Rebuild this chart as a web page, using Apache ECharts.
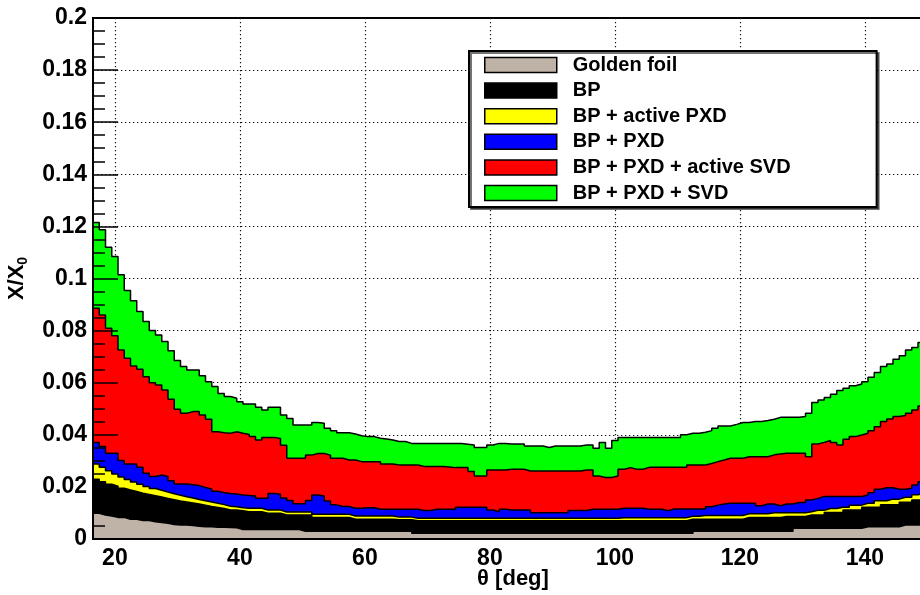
<!DOCTYPE html>
<html>
<head>
<meta charset="utf-8">
<title>Material budget X/X0 vs theta</title>
<script src="https://cdn.jsdelivr.net/npm/echarts@6/dist/echarts.min.js"></script>
<style>
  html, body { margin: 0; padding: 0; background: #fff; }
  #chart { width: 920px; height: 595px; }
</style>
</head>
<body>
<div id="chart"></div>
<script>
// histogram bins: 1 deg wide, first bin starts at 16.5 deg (centres 17 ... 149)
const thetaStart = 16.5
const thetaStep = 1

const layerNames = ['Golden foil', 'BP', 'BP + active PXD', 'BP + PXD', 'BP + PXD + active SVD', 'BP + PXD + SVD']
const layerColors = ['#bfb3a8', '#000000', '#ffff00', '#0000ff', '#ff0000', '#00ff00']

// cumulative X/X0 per bin
const goldenFoil = [
  0.0099, 0.0092, 0.0088, 0.0083, 0.0083, 0.0076, 0.0076, 0.0071, 0.0071, 0.0066,
  0.0063, 0.0060, 0.0056, 0.0054, 0.0054, 0.0052, 0.0049, 0.0047, 0.0047, 0.0045,
  0.0045, 0.0044, 0.0043, 0.0036, 0.0036, 0.0036, 0.0036, 0.0036, 0.0036, 0.0036,
  0.0036, 0.0036, 0.0036, 0.0030, 0.0030, 0.0030, 0.0030, 0.0030, 0.0030, 0.0030,
  0.0030, 0.0030, 0.0030, 0.0030, 0.0030, 0.0030, 0.0030, 0.0030, 0.0030, 0.0030,
  0.0030, 0.0022, 0.0022, 0.0022, 0.0022, 0.0022, 0.0022, 0.0022, 0.0022, 0.0022,
  0.0022, 0.0022, 0.0022, 0.0022, 0.0022, 0.0022, 0.0022, 0.0022, 0.0022, 0.0022,
  0.0022, 0.0022, 0.0022, 0.0022, 0.0022, 0.0022, 0.0022, 0.0022, 0.0022, 0.0022,
  0.0022, 0.0022, 0.0022, 0.0022, 0.0022, 0.0022, 0.0022, 0.0022, 0.0022, 0.0022,
  0.0022, 0.0022, 0.0022, 0.0022, 0.0022, 0.0022, 0.0030, 0.0030, 0.0030, 0.0030,
  0.0030, 0.0030, 0.0030, 0.0030, 0.0030, 0.0030, 0.0030, 0.0030, 0.0030, 0.0030,
  0.0030, 0.0030, 0.0041, 0.0041, 0.0041, 0.0041, 0.0041, 0.0041, 0.0041, 0.0041,
  0.0041, 0.0041, 0.0041, 0.0047, 0.0047, 0.0047, 0.0047, 0.0047, 0.0047, 0.0054,
  0.0054, 0.0054, 0.0054
]
const beamPipe = [
  0.0229, 0.0220, 0.0210, 0.0203, 0.0195, 0.0188, 0.0182, 0.0176, 0.0171, 0.0166,
  0.0161, 0.0156, 0.0151, 0.0146, 0.0142, 0.0138, 0.0134, 0.0130, 0.0125, 0.0121,
  0.0117, 0.0111, 0.0111, 0.0108, 0.0105, 0.0105, 0.0105, 0.0099, 0.0099, 0.0099,
  0.0092, 0.0092, 0.0092, 0.0092, 0.0092, 0.0083, 0.0083, 0.0083, 0.0083, 0.0083,
  0.0083, 0.0076, 0.0076, 0.0076, 0.0076, 0.0076, 0.0076, 0.0076, 0.0074, 0.0074,
  0.0074, 0.0070, 0.0070, 0.0070, 0.0070, 0.0070, 0.0070, 0.0070, 0.0070, 0.0070,
  0.0070, 0.0070, 0.0070, 0.0070, 0.0070, 0.0070, 0.0070, 0.0070, 0.0070, 0.0070,
  0.0070, 0.0070, 0.0070, 0.0070, 0.0070, 0.0070, 0.0070, 0.0070, 0.0070, 0.0070,
  0.0070, 0.0070, 0.0070, 0.0070, 0.0070, 0.0070, 0.0070, 0.0070, 0.0070, 0.0070,
  0.0070, 0.0070, 0.0070, 0.0070, 0.0070, 0.0076, 0.0076, 0.0076, 0.0076, 0.0076,
  0.0076, 0.0076, 0.0076, 0.0076, 0.0083, 0.0083, 0.0083, 0.0083, 0.0083, 0.0083,
  0.0086, 0.0086, 0.0086, 0.0086, 0.0092, 0.0092, 0.0092, 0.0102, 0.0102, 0.0102,
  0.0111, 0.0111, 0.0111, 0.0122, 0.0122, 0.0122, 0.0131, 0.0131, 0.0131, 0.0141,
  0.0141, 0.0150, 0.0150
]
const activePxd = [
  0.0288, 0.0275, 0.0262, 0.0250, 0.0238, 0.0228, 0.0219, 0.0210, 0.0202, 0.0194,
  0.0187, 0.0180, 0.0174, 0.0168, 0.0162, 0.0157, 0.0152, 0.0147, 0.0142, 0.0137,
  0.0132, 0.0126, 0.0124, 0.0120, 0.0118, 0.0118, 0.0118, 0.0111, 0.0111, 0.0111,
  0.0104, 0.0104, 0.0104, 0.0104, 0.0104, 0.0095, 0.0095, 0.0095, 0.0095, 0.0095,
  0.0095, 0.0088, 0.0088, 0.0088, 0.0088, 0.0088, 0.0088, 0.0088, 0.0084, 0.0084,
  0.0084, 0.0080, 0.0080, 0.0080, 0.0080, 0.0080, 0.0080, 0.0080, 0.0080, 0.0080,
  0.0080, 0.0080, 0.0080, 0.0080, 0.0080, 0.0080, 0.0080, 0.0080, 0.0080, 0.0080,
  0.0080, 0.0080, 0.0080, 0.0080, 0.0080, 0.0080, 0.0080, 0.0080, 0.0080, 0.0080,
  0.0080, 0.0080, 0.0080, 0.0080, 0.0082, 0.0082, 0.0082, 0.0082, 0.0082, 0.0082,
  0.0082, 0.0082, 0.0082, 0.0082, 0.0082, 0.0087, 0.0087, 0.0090, 0.0090, 0.0090,
  0.0090, 0.0090, 0.0090, 0.0090, 0.0097, 0.0097, 0.0097, 0.0097, 0.0101, 0.0101,
  0.0101, 0.0101, 0.0101, 0.0101, 0.0105, 0.0110, 0.0110, 0.0117, 0.0117, 0.0122,
  0.0122, 0.0130, 0.0130, 0.0137, 0.0137, 0.0147, 0.0147, 0.0153, 0.0153, 0.0160,
  0.0160, 0.0170, 0.0176
]
const pxd = [
  0.0370, 0.0355, 0.0329, 0.0329, 0.0301, 0.0288, 0.0288, 0.0275, 0.0252, 0.0240,
  0.0246, 0.0240, 0.0224, 0.0211, 0.0211, 0.0208, 0.0205, 0.0198, 0.0192, 0.0183,
  0.0178, 0.0175, 0.0173, 0.0169, 0.0167, 0.0165, 0.0156, 0.0156, 0.0175, 0.0172,
  0.0157, 0.0148, 0.0135, 0.0135, 0.0148, 0.0169, 0.0165, 0.0146, 0.0131, 0.0125,
  0.0125, 0.0118, 0.0118, 0.0120, 0.0120, 0.0114, 0.0114, 0.0114, 0.0114, 0.0114,
  0.0114, 0.0114, 0.0109, 0.0109, 0.0114, 0.0114, 0.0114, 0.0114, 0.0122, 0.0122,
  0.0122, 0.0122, 0.0122, 0.0111, 0.0105, 0.0114, 0.0111, 0.0111, 0.0111, 0.0111,
  0.0101, 0.0101, 0.0101, 0.0101, 0.0101, 0.0101, 0.0109, 0.0109, 0.0109, 0.0114,
  0.0114, 0.0114, 0.0114, 0.0114, 0.0118, 0.0118, 0.0118, 0.0118, 0.0114, 0.0114,
  0.0114, 0.0109, 0.0115, 0.0115, 0.0115, 0.0115, 0.0115, 0.0115, 0.0124, 0.0130,
  0.0134, 0.0137, 0.0137, 0.0137, 0.0137, 0.0137, 0.0128, 0.0134, 0.0134, 0.0128,
  0.0134, 0.0134, 0.0140, 0.0140, 0.0150, 0.0156, 0.0163, 0.0163, 0.0163, 0.0163,
  0.0163, 0.0163, 0.0163, 0.0169, 0.0178, 0.0191, 0.0197, 0.0197, 0.0191, 0.0191,
  0.0195, 0.0207, 0.0220
]
const activeSvd = [
  0.0886, 0.0860, 0.0809, 0.0780, 0.0726, 0.0694, 0.0664, 0.0652, 0.0623, 0.0600,
  0.0591, 0.0572, 0.0536, 0.0498, 0.0483, 0.0489, 0.0489, 0.0476, 0.0460, 0.0412,
  0.0408, 0.0406, 0.0412, 0.0406, 0.0401, 0.0393, 0.0380, 0.0390, 0.0390, 0.0386,
  0.0360, 0.0310, 0.0310, 0.0310, 0.0322, 0.0328, 0.0328, 0.0322, 0.0310, 0.0310,
  0.0303, 0.0303, 0.0297, 0.0297, 0.0297, 0.0297, 0.0288, 0.0288, 0.0284, 0.0284,
  0.0284, 0.0284, 0.0278, 0.0278, 0.0278, 0.0278, 0.0276, 0.0274, 0.0274, 0.0274,
  0.0259, 0.0242, 0.0242, 0.0265, 0.0265, 0.0265, 0.0268, 0.0268, 0.0268, 0.0261,
  0.0261, 0.0261, 0.0261, 0.0261, 0.0261, 0.0261, 0.0261, 0.0261, 0.0265, 0.0265,
  0.0242, 0.0236, 0.0236, 0.0242, 0.0268, 0.0274, 0.0268, 0.0268, 0.0275, 0.0275,
  0.0275, 0.0275, 0.0275, 0.0275, 0.0275, 0.0284, 0.0284, 0.0284, 0.0290, 0.0297,
  0.0303, 0.0310, 0.0310, 0.0310, 0.0316, 0.0316, 0.0316, 0.0316, 0.0323, 0.0326,
  0.0329, 0.0329, 0.0329, 0.0329, 0.0316, 0.0365, 0.0371, 0.0378, 0.0370, 0.0361,
  0.0383, 0.0393, 0.0399, 0.0406, 0.0416, 0.0431, 0.0451, 0.0461, 0.0470, 0.0474,
  0.0483, 0.0495, 0.0511
]
const fullSvd = [
  0.1215, 0.1187, 0.1120, 0.1084, 0.1014, 0.0954, 0.0915, 0.0873, 0.0835, 0.0800,
  0.0783, 0.0758, 0.0723, 0.0685, 0.0662, 0.0649, 0.0649, 0.0627, 0.0604, 0.0585,
  0.0559, 0.0547, 0.0540, 0.0527, 0.0518, 0.0518, 0.0506, 0.0495, 0.0506, 0.0506,
  0.0476, 0.0463, 0.0438, 0.0438, 0.0438, 0.0447, 0.0444, 0.0425, 0.0416, 0.0408,
  0.0408, 0.0403, 0.0396, 0.0393, 0.0393, 0.0387, 0.0384, 0.0380, 0.0374, 0.0374,
  0.0367, 0.0367, 0.0367, 0.0367, 0.0367, 0.0367, 0.0367, 0.0367, 0.0367, 0.0364,
  0.0361, 0.0351, 0.0351, 0.0361, 0.0367, 0.0367, 0.0365, 0.0365, 0.0365, 0.0357,
  0.0357, 0.0357, 0.0351, 0.0357, 0.0357, 0.0357, 0.0357, 0.0357, 0.0361, 0.0361,
  0.0348, 0.0370, 0.0348, 0.0378, 0.0390, 0.0390, 0.0390, 0.0390, 0.0390, 0.0390,
  0.0390, 0.0390, 0.0390, 0.0390, 0.0400, 0.0406, 0.0406, 0.0410, 0.0416, 0.0425,
  0.0434, 0.0434, 0.0440, 0.0447, 0.0447, 0.0451, 0.0451, 0.0455, 0.0460, 0.0467,
  0.0467, 0.0467, 0.0467, 0.0470, 0.0483, 0.0524, 0.0534, 0.0543, 0.0556, 0.0570,
  0.0579, 0.0588, 0.0595, 0.0604, 0.0621, 0.0639, 0.0662, 0.0672, 0.0690, 0.0703,
  0.0726, 0.0735, 0.0754
]

const layerValues = [goldenFoil, beamPipe, activePxd, pxd, activeSvd, fullSvd]

const labelFont = {
  color: '#000',
  fontFamily: 'Liberation Sans, Arial, sans-serif',
  fontWeight: 'bold',
  fontSize: 23
}

// histogram outline: one point per bin low edge, plus the last high edge
function toSteps(values) {
  const points = values.map((v, i) => [thetaStart + i * thetaStep, v])
  points.push([thetaStart + values.length * thetaStep, values[values.length - 1]])
  return points
}

function buildLayer(index) {
  const fill = layerColors[index]
  return {
    name: layerNames[index],
    type: 'line',
    step: 'end',
    symbol: 'none',
    silent: true,
    xAxisIndex: 0,
    yAxisIndex: 0,
    data: toSteps(layerValues[index]),
    itemStyle: { color: fill, borderColor: '#000', borderWidth: 1.5 },
    lineStyle: { color: '#000', width: 1.5 },
    areaStyle: { color: fill, opacity: 1, origin: 'start' }
  }
}

// widest on the bottom of the draw list: the last drawn sits on top
const series = [5, 4, 3, 2, 1, 0].map(buildLayer)

const chart = echarts.init(document.getElementById('chart'), null, { renderer: 'canvas' })

const xRange = { min: 16.5, max: 150.9 }
const gridDots = { type: [1.3, 2.7], color: '#111', width: 1.2 }

chart.setOption({
  animation: false,
  backgroundColor: '#fff',
  grid: {
    left: 93,
    top: 18,
    width: 840,
    bottom: 56,
    containLabel: false,
    outerBoundsMode: 'none',
    show: true,
    backgroundColor: 'transparent',
    borderColor: '#000',
    borderWidth: 2
  },
  legend: {
    orient: 'vertical',
    left: 469,
    top: 51,
    padding: [4, 86, 4, 15],
    itemWidth: 72,
    itemHeight: 15,
    itemGap: 5.6,
    icon: 'rect',
    selectedMode: false,
    backgroundColor: '#fff',
    borderColor: '#000',
    borderWidth: 2,
    shadowColor: 'rgba(0,0,0,0.55)',
    shadowOffsetX: 2,
    shadowOffsetY: 2,
    itemStyle: { borderColor: '#000', borderWidth: 1.5 },
    textStyle: { ...labelFont, fontSize: 20, lineHeight: 16, padding: [0, 0, 0, 11] },
    data: layerNames.map((name, i) => ({ name, itemStyle: { color: layerColors[i] } }))
  },
  xAxis: [
    {
      type: 'value',
      position: 'bottom',
      ...xRange,
      splitNumber: 7,
      axisLine: { show: false },
      axisTick: { show: false },
      axisLabel: { show: false },
      splitLine: { show: true, lineStyle: gridDots }
    },
    {
      type: 'value',
      position: 'bottom',
      ...xRange,
      splitNumber: 7,
      z: 5,
      axisLine: { show: true, onZero: false, lineStyle: { color: '#000', width: 2 } },
      axisTick: { show: false },
      splitLine: { show: false },
      axisLabel: {
        ...labelFont,
        margin: 8,
        showMinLabel: false,
        showMaxLabel: false,
        formatter: (v) => (v % 20 === 0 ? String(v) : '')
      },
      name: 'θ [deg]',
      nameLocation: 'middle',
      nameMoveOverlap: false,
      nameGap: 29,
      nameTextStyle: { ...labelFont, fontSize: 22, verticalAlign: 'top' }
    }
  ],
  yAxis: [
    {
      type: 'value',
      position: 'left',
      min: 0,
      max: 0.2,
      interval: 0.02,
      axisLine: { show: false },
      axisTick: { show: false },
      axisLabel: { show: false },
      splitLine: { show: true, lineStyle: gridDots }
    },
    {
      type: 'value',
      position: 'left',
      min: 0,
      max: 0.2,
      interval: 0.02,
      z: 5,
      axisLine: { show: true, onZero: false, lineStyle: { color: '#000', width: 2 } },
      axisTick: { show: true, inside: true, length: 25, lineStyle: { color: '#000', width: 1.5 } },
      minorTick: { show: true, splitNumber: 4, length: 12, lineStyle: { color: '#000', width: 1.5 } },
      splitLine: { show: false },
      axisLabel: { ...labelFont, margin: 6 },
      name: 'X/X{s|0}',
      nameLocation: 'middle',
      nameGap: 63,
      nameTextStyle: {
        ...labelFont,
        fontSize: 22,
        rich: {
          s: { ...labelFont, fontSize: 14, padding: [12, 0, 0, 0] }
        }
      }
    }
  ],
  series
})
</script>
</body>
</html>
